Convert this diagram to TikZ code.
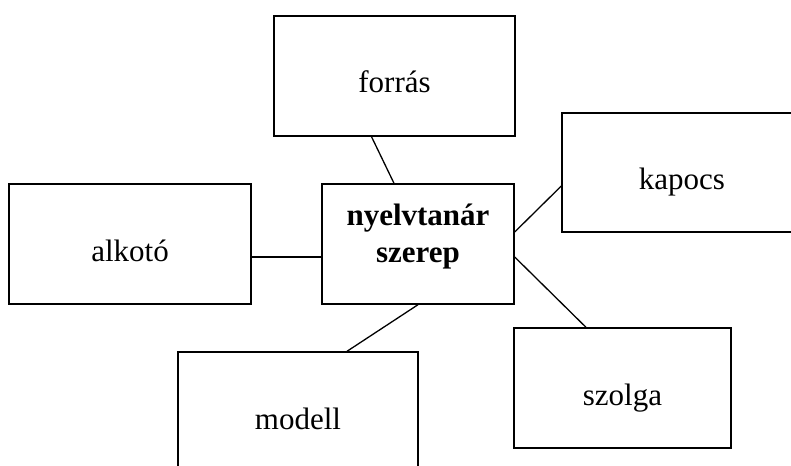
\documentclass[tikz,border=0pt]{standalone}
\usepackage{fontspec}
\setmainfont{Liberation Serif}
\usepackage{tikz}
\tikzstyle{role} = [draw, shape=rectangle, line width=1.4pt, minimum width=241pt, minimum height=120pt, inner sep=0pt, font=\fontsize{31}{37}\selectfont, text height=34pt, text depth=0pt]
\tikzstyle{core} = [role, minimum width=192pt, font=\fontsize{31}{37}\selectfont\bfseries, align=center, text height=43pt, text depth=7pt]

\begin{document}
\begin{tikzpicture}[x=1pt,y=-1pt,line width=1.3pt]
    \useasboundingbox (0,0) rectangle (791,465);
    \clip (0,0) rectangle (791,465);
    \draw (418,244) node[core] (szerep) {nyelvtanár\\szerep};
    \draw (394.5,76) node[role] (forras) {forrás};
    \draw (682,172.5) node[role, minimum width=240pt, minimum height=119pt] (kapocs) {kapocs};
    \draw (130,244) node[role, minimum width=242pt] (alkoto) {alkotó};
    \draw (622.5,388) node[role, minimum width=217pt] (szolga) {szolga};
    \draw (298,412) node[role, minimum width=240pt] (modell) {modell};
    \draw ([xshift=-23pt]forras.south) -- ([xshift=-24pt]szerep.north);
    \draw ([yshift=12pt]szerep.east) -- ([yshift=-13.5pt]kapocs.west);
    \draw ([yshift=-13pt]alkoto.east) -- ([yshift=-13pt]szerep.west);
    \draw ([yshift=-13pt]szerep.east) -- ([xshift=-36.5pt]szolga.north);
    \draw (szerep.south) -- ([xshift=49pt]modell.north);
\end{tikzpicture}
\end{document}
